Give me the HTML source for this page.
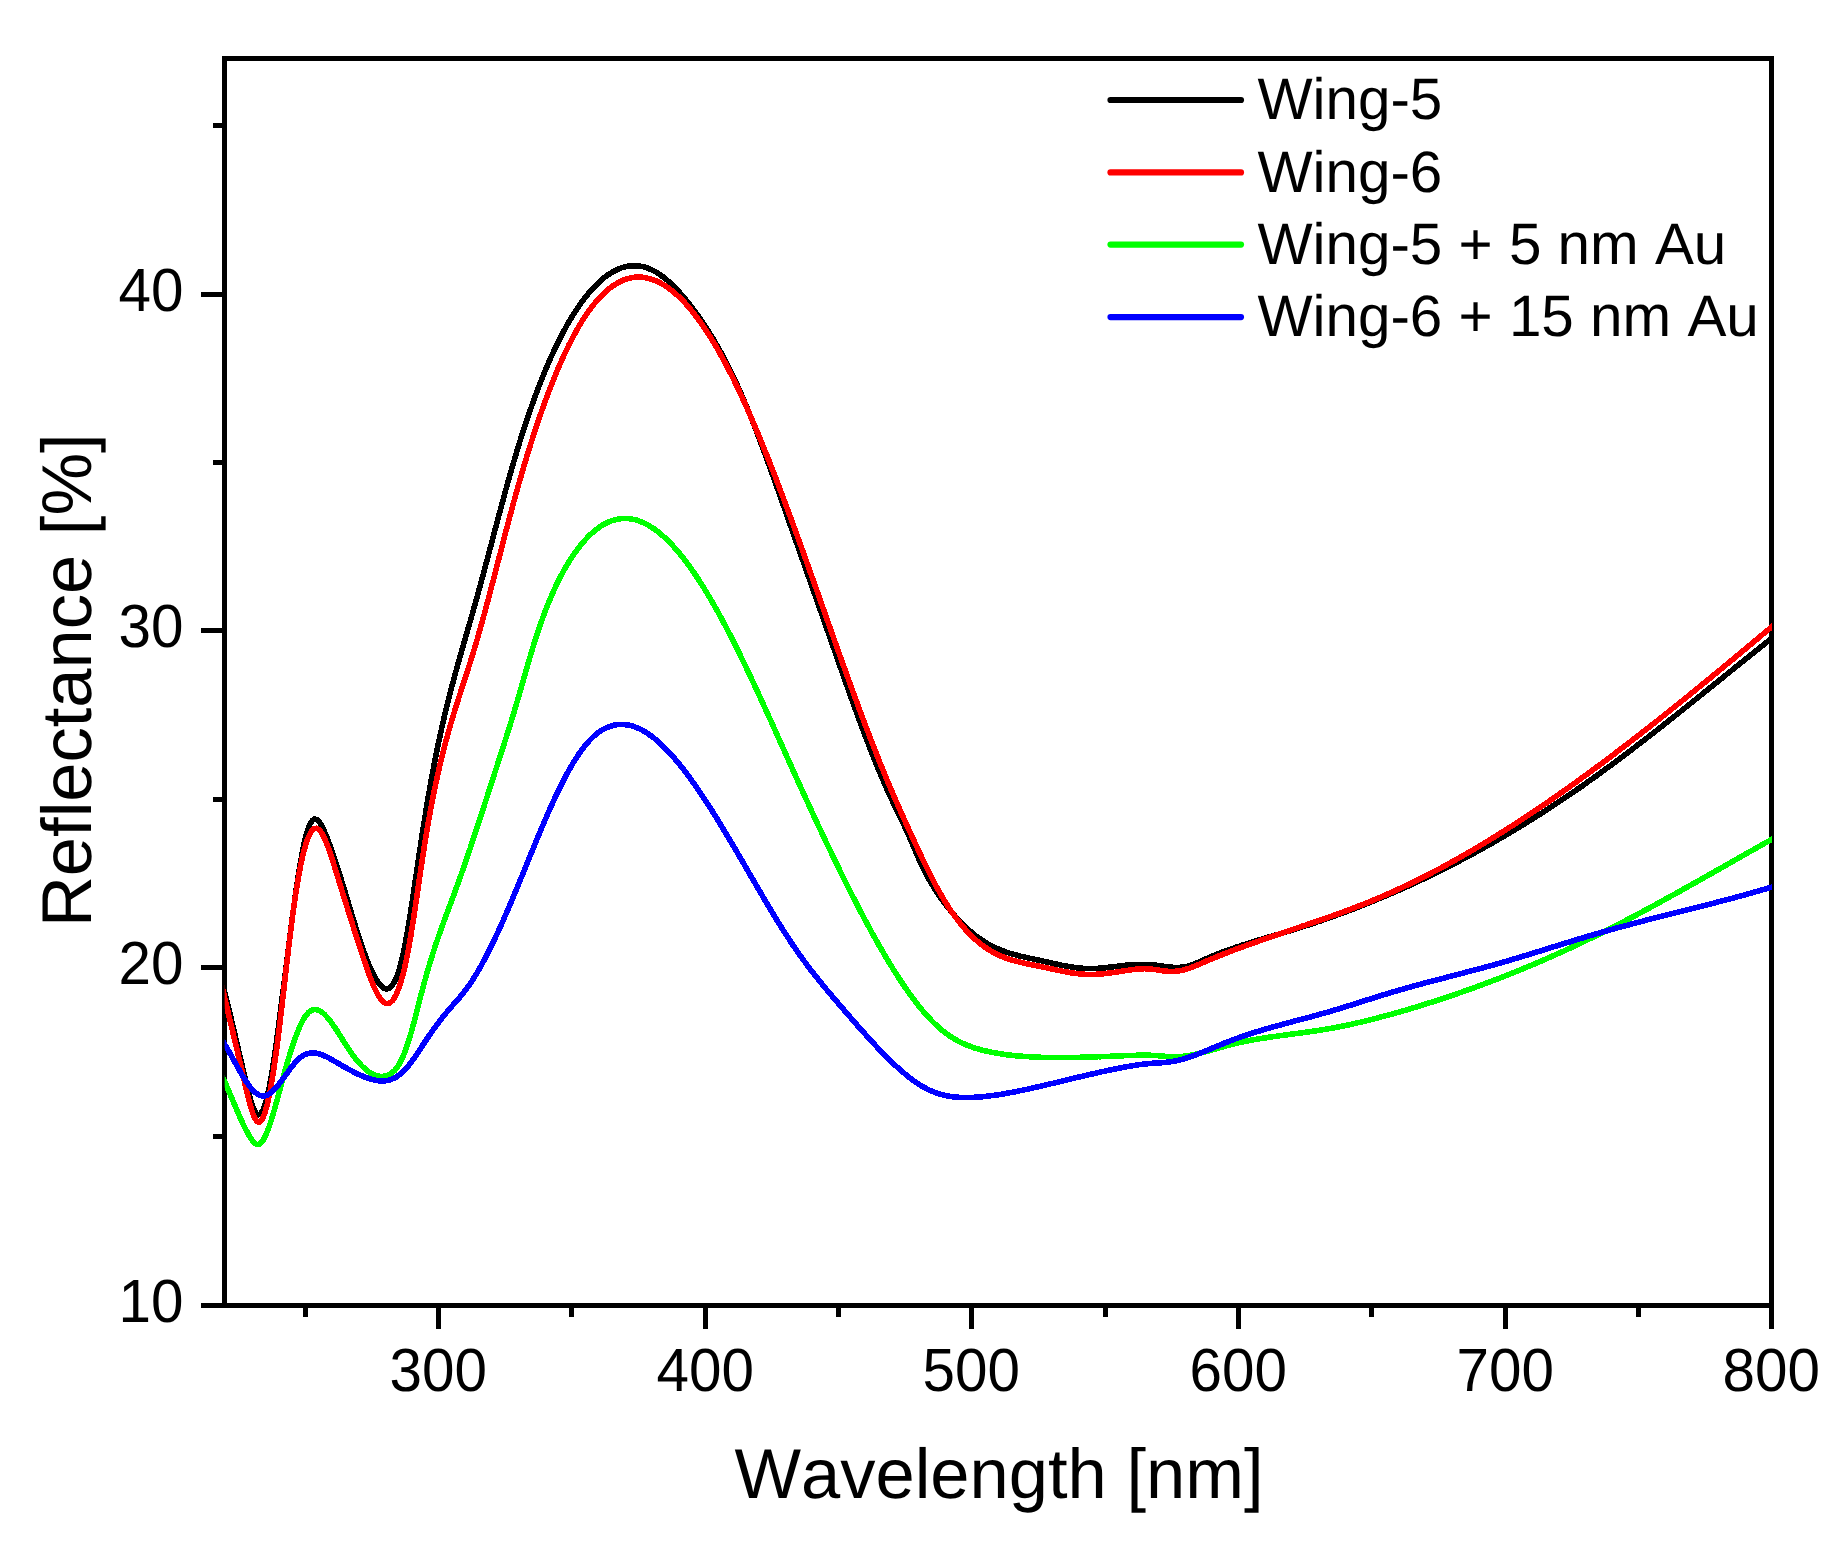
<!DOCTYPE html>
<html lang="en"><head><meta charset="utf-8"><title>Reflectance vs Wavelength</title>
<style>
html,body{margin:0;padding:0;background:#fff;}
body{width:1839px;height:1544px;overflow:hidden;}
svg{display:block;}
text{font-family:'Liberation Sans', Arial, Helvetica, sans-serif;fill:#000;font-kerning:none;text-rendering:geometricPrecision;}
.tk{font-size:58.4px;}
.ttl{font-size:70.5px;}
</style></head><body>
<svg width="1839" height="1544" viewBox="0 0 1839 1544">
<rect x="0" y="0" width="1839" height="1544" fill="#fff"/>

<g fill="#000" shape-rendering="crispEdges">
<rect x="222" y="56" width="5" height="1252"/>
<rect x="1769" y="56" width="5" height="1252"/>
<rect x="222" y="56" width="1552" height="5"/>
<rect x="222" y="1303" width="1552" height="5"/>
<rect x="436" y="1308" width="5" height="21"/>
<rect x="703" y="1308" width="5" height="21"/>
<rect x="969" y="1308" width="5" height="21"/>
<rect x="1236" y="1308" width="5" height="21"/>
<rect x="1503" y="1308" width="5" height="21"/>
<rect x="1769" y="1308" width="5" height="21"/>
<rect x="303" y="1308" width="5" height="9"/>
<rect x="569" y="1308" width="5" height="9"/>
<rect x="836" y="1308" width="5" height="9"/>
<rect x="1103" y="1308" width="5" height="9"/>
<rect x="1369" y="1308" width="5" height="9"/>
<rect x="1636" y="1308" width="5" height="9"/>
<rect x="201" y="1303" width="21" height="5"/>
<rect x="201" y="965" width="21" height="5"/>
<rect x="201" y="628" width="21" height="5"/>
<rect x="201" y="292" width="21" height="5"/>
<rect x="213" y="1134" width="9" height="5"/>
<rect x="213" y="797" width="9" height="5"/>
<rect x="213" y="460" width="9" height="5"/>
<rect x="213" y="123" width="9" height="5"/>
</g>
<g class="tk">
<text transform="translate(438.30,1390.6) scale(1,1.045)" text-anchor="middle">300</text>
<text transform="translate(705.30,1390.6) scale(1,1.045)" text-anchor="middle">400</text>
<text transform="translate(971.30,1390.6) scale(1,1.045)" text-anchor="middle">500</text>
<text transform="translate(1238.30,1390.6) scale(1,1.045)" text-anchor="middle">600</text>
<text transform="translate(1505.30,1390.6) scale(1,1.045)" text-anchor="middle">700</text>
<text transform="translate(1771.30,1390.6) scale(1,1.045)" text-anchor="middle">800</text>
<text transform="translate(183.5,1321.80) scale(1,1.045)" text-anchor="end">10</text>
<text transform="translate(183.5,983.80) scale(1,1.045)" text-anchor="end">20</text>
<text transform="translate(183.5,646.80) scale(1,1.045)" text-anchor="end">30</text>
<text transform="translate(183.5,310.80) scale(1,1.045)" text-anchor="end">40</text>
</g>
<text class="ttl" x="999.0" y="1497.6" text-anchor="middle">Wavelength [nm]</text>
<text class="ttl" transform="translate(90.8,680.2) rotate(-90)" text-anchor="middle">Reflectance [%]</text>
<defs><clipPath id="plotclip"><rect x="224.8" y="58.5" width="1547.2" height="1247.0"/></clipPath></defs>
<g fill="none" stroke-width="5.6" stroke-linejoin="round" stroke-linecap="butt" clip-path="url(#plotclip)" shape-rendering="crispEdges">
<defs><path id="c0" d="M218.5 967.2 220.5 975.1 222.5 983.0 224.5 991.1 226.5 999.3 228.5 1007.6 230.5 1015.9 232.5 1024.3 234.5 1032.8 236.5 1041.3 238.5 1049.9 240.5 1058.5 242.5 1067.1 244.5 1075.7 246.5 1084.1 248.5 1092.1 250.5 1099.4 252.5 1105.6 254.5 1110.5 256.5 1113.6 258.5 1114.9 260.5 1114.0 262.5 1111.1 264.5 1106.2 266.5 1099.5 268.5 1091.0 270.5 1080.8 272.5 1069.0 274.5 1055.8 276.5 1041.5 278.5 1026.5 280.5 1011.0 282.5 995.2 284.5 979.1 286.5 963.1 288.5 947.1 290.5 931.4 292.5 916.1 294.5 901.4 296.5 887.4 298.5 874.3 300.5 862.3 302.5 851.4 304.5 841.9 306.5 833.9 308.5 827.5 310.5 823.0 312.5 820.2 314.5 819.1 316.5 819.4 318.5 821.0 320.5 823.7 322.5 827.2 324.5 831.6 326.5 836.4 328.5 841.6 330.5 847.1 332.5 852.8 334.5 858.6 336.5 864.6 338.5 870.8 340.5 877.2 342.5 883.7 344.5 890.2 346.5 896.8 348.5 903.4 350.5 910.0 352.5 916.6 354.5 923.1 356.5 929.5 358.5 935.7 360.5 941.8 362.5 947.6 364.5 953.2 366.5 958.6 368.5 963.6 370.5 968.3 372.5 972.6 374.5 976.5 376.5 980.0 378.5 983.0 380.5 985.4 382.5 987.3 384.5 988.5 386.5 988.9 388.5 988.5 390.5 987.3 392.5 985.0 394.5 981.7 396.5 977.3 398.5 971.8 400.5 964.9 402.5 956.8 404.5 947.3 406.5 936.6 408.5 925.0 410.5 912.6 412.5 899.6 414.5 886.2 416.5 872.6 418.5 859.0 420.5 845.6 422.5 832.5 424.5 819.8 426.5 807.4 428.5 795.5 430.5 784.1 432.5 773.2 434.5 762.7 436.5 752.6 438.5 742.9 440.5 733.6 442.5 724.6 444.5 716.0 446.5 707.6 448.5 699.5 450.5 691.6 452.5 684.0 454.5 676.5 456.5 669.2 458.5 662.0 460.5 655.0 462.5 648.0 464.5 641.0 466.5 634.1 468.5 627.2 470.5 620.3 472.5 613.3 474.5 606.2 476.5 599.0 478.5 591.8 480.5 584.4 482.5 577.0 484.5 569.6 486.5 562.1 488.5 554.5 490.5 547.0 492.5 539.4 494.5 531.9 496.5 524.3 498.5 516.8 500.5 509.4 502.5 501.9 504.5 494.6 506.5 487.3 508.5 480.1 510.5 473.1 512.5 466.1 514.5 459.3 516.5 452.5 518.5 446.0 520.5 439.5 522.5 433.2 524.5 427.1 526.5 421.0 528.5 415.1 530.5 409.3 532.5 403.7 534.5 398.1 536.5 392.7 538.5 387.5 540.5 382.3 542.5 377.3 544.5 372.4 546.5 367.6 548.5 362.9 550.5 358.4 552.5 353.9 554.5 349.6 556.5 345.4 558.5 341.3 560.5 337.4 562.5 333.5 564.5 329.8 566.5 326.1 568.5 322.6 570.5 319.2 572.5 315.9 574.5 312.7 576.5 309.7 578.5 306.7 580.5 303.8 582.5 301.0 584.5 298.4 586.5 295.8 588.5 293.4 590.5 291.0 592.5 288.8 594.5 286.6 596.5 284.6 598.5 282.6 600.5 280.8 602.5 279.1 604.5 277.4 606.5 275.9 608.5 274.5 610.5 273.2 612.5 272.0 614.5 270.9 616.5 269.9 618.5 269.0 620.5 268.2 622.5 267.5 624.5 266.9 626.5 266.5 628.5 266.1 630.5 265.9 632.5 265.7 634.5 265.7 636.5 265.8 638.5 265.9 640.5 266.2 642.5 266.6 644.5 267.1 646.5 267.7 648.5 268.5 650.5 269.3 652.5 270.2 654.5 271.3 656.5 272.4 658.5 273.7 660.5 275.0 662.5 276.5 664.5 278.0 666.5 279.6 668.5 281.4 670.5 283.2 672.5 285.1 674.5 287.0 676.5 289.1 678.5 291.2 680.5 293.5 682.5 295.7 684.5 298.1 686.5 300.5 688.5 303.0 690.5 305.6 692.5 308.2 694.5 310.9 696.5 313.7 698.5 316.5 700.5 319.3 702.5 322.3 704.5 325.3 706.5 328.3 708.5 331.5 710.5 334.7 712.5 337.9 714.5 341.3 716.5 344.7 718.5 348.2 720.5 351.8 722.5 355.5 724.5 359.2 726.5 363.0 728.5 366.9 730.5 371.0 732.5 375.1 734.5 379.2 736.5 383.5 738.5 387.9 740.5 392.4 742.5 397.0 744.5 401.6 746.5 406.4 748.5 411.3 750.5 416.2 752.5 421.2 754.5 426.3 756.5 431.4 758.5 436.6 760.5 441.9 762.5 447.3 764.5 452.6 766.5 458.1 768.5 463.6 770.5 469.1 772.5 474.6 774.5 480.2 776.5 485.8 778.5 491.5 780.5 497.1 782.5 502.8 784.5 508.5 786.5 514.2 788.5 519.9 790.5 525.6 792.5 531.2 794.5 536.9 796.5 542.6 798.5 548.3 800.5 553.9 802.5 559.6 804.5 565.3 806.5 570.9 808.5 576.6 810.5 582.2 812.5 587.9 814.5 593.6 816.5 599.2 818.5 604.9 820.5 610.6 822.5 616.3 824.5 622.0 826.5 627.7 828.5 633.4 830.5 639.1 832.5 644.8 834.5 650.5 836.5 656.2 838.5 661.9 840.5 667.6 842.5 673.3 844.5 679.0 846.5 684.6 848.5 690.2 850.5 695.8 852.5 701.4 854.5 706.9 856.5 712.4 858.5 717.9 860.5 723.3 862.5 728.6 864.5 733.9 866.5 739.2 868.5 744.4 870.5 749.5 872.5 754.6 874.5 759.6 876.5 764.6 878.5 769.4 880.5 774.2 882.5 779.0 884.5 783.6 886.5 788.1 888.5 792.6 890.5 797.0 892.5 801.2 894.5 805.4 896.5 809.6 898.5 813.7 900.5 817.8 902.5 821.9 904.5 826.2 906.5 830.5 908.5 835.0 910.5 839.5 912.5 844.2 914.5 848.9 916.5 853.6 918.5 858.2 920.5 862.6 922.5 866.9 924.5 871.0 926.5 874.8 928.5 878.5 930.5 882.0 932.5 885.4 934.5 888.6 936.5 891.7 938.5 894.6 940.5 897.5 942.5 900.3 944.5 903.0 946.5 905.7 948.5 908.2 950.5 910.7 952.5 913.1 954.5 915.4 956.5 917.7 958.5 919.9 960.5 922.0 962.5 924.0 964.5 926.0 966.5 927.9 968.5 929.7 970.5 931.4 972.5 933.1 974.5 934.7 976.5 936.3 978.5 937.7 980.5 939.1 982.5 940.5 984.5 941.8 986.5 943.0 988.5 944.2 990.5 945.3 992.5 946.3 994.5 947.3 996.5 948.2 998.5 949.1 1000.5 949.9 1002.5 950.7 1004.5 951.5 1006.5 952.2 1008.5 952.8 1010.5 953.5 1012.5 954.0 1014.5 954.6 1016.5 955.1 1018.5 955.7 1020.5 956.2 1022.5 956.6 1024.5 957.1 1026.5 957.5 1028.5 958.0 1030.5 958.4 1032.5 958.8 1034.5 959.2 1036.5 959.7 1038.5 960.1 1040.5 960.5 1042.5 961.0 1044.5 961.4 1046.5 961.9 1048.5 962.3 1050.5 962.8 1052.5 963.2 1054.5 963.7 1056.5 964.1 1058.5 964.5 1060.5 964.9 1062.5 965.4 1064.5 965.7 1066.5 966.1 1068.5 966.5 1070.5 966.8 1072.5 967.1 1074.5 967.4 1076.5 967.7 1078.5 967.9 1080.5 968.1 1082.5 968.3 1084.5 968.4 1086.5 968.5 1088.5 968.5 1090.5 968.6 1092.5 968.5 1094.5 968.5 1096.5 968.4 1098.5 968.3 1100.5 968.1 1102.5 967.9 1104.5 967.8 1106.5 967.6 1108.5 967.3 1110.5 967.1 1112.5 966.9 1114.5 966.6 1116.5 966.4 1118.5 966.1 1120.5 965.9 1122.5 965.6 1124.5 965.4 1126.5 965.2 1128.5 965.0 1130.5 964.8 1132.5 964.7 1134.5 964.5 1136.5 964.4 1138.5 964.3 1140.5 964.3 1142.5 964.3 1144.5 964.3 1146.5 964.3 1148.5 964.4 1150.5 964.6 1152.5 964.8 1154.5 965.0 1156.5 965.3 1158.5 965.6 1160.5 965.9 1162.5 966.1 1164.5 966.4 1166.5 966.7 1168.5 966.9 1170.5 967.1 1172.5 967.3 1174.5 967.4 1176.5 967.5 1178.5 967.4 1180.5 967.3 1182.5 967.1 1184.5 966.9 1186.5 966.5 1188.5 966.0 1190.5 965.3 1192.5 964.6 1194.5 963.9 1196.5 963.0 1198.5 962.2 1200.5 961.3 1202.5 960.4 1204.5 959.5 1206.5 958.6 1208.5 957.7 1210.5 956.9 1212.5 956.0 1214.5 955.2 1216.5 954.4 1218.5 953.6 1220.5 952.9 1222.5 952.1 1224.5 951.4 1226.5 950.6 1228.5 949.9 1230.5 949.2 1232.5 948.5 1234.5 947.8 1236.5 947.1 1238.5 946.5 1240.5 945.8 1242.5 945.1 1244.5 944.5 1246.5 943.8 1248.5 943.2 1250.5 942.6 1252.5 942.0 1254.5 941.3 1256.5 940.7 1258.5 940.1 1260.5 939.5 1262.5 938.9 1264.5 938.3 1266.5 937.7 1268.5 937.1 1270.5 936.5 1272.5 935.9 1274.5 935.3 1276.5 934.8 1278.5 934.2 1280.5 933.6 1282.5 933.0 1284.5 932.4 1286.5 931.8 1288.5 931.2 1290.5 930.6 1292.5 929.9 1294.5 929.3 1296.5 928.7 1298.5 928.1 1300.5 927.4 1302.5 926.8 1304.5 926.2 1306.5 925.5 1308.5 924.9 1310.5 924.2 1312.5 923.6 1314.5 922.9 1316.5 922.2 1318.5 921.5 1320.5 920.9 1322.5 920.2 1324.5 919.5 1326.5 918.8 1328.5 918.1 1330.5 917.4 1332.5 916.7 1334.5 915.9 1336.5 915.2 1338.5 914.5 1340.5 913.8 1342.5 913.0 1344.5 912.3 1346.5 911.5 1348.5 910.8 1350.5 910.0 1352.5 909.3 1354.5 908.5 1356.5 907.7 1358.5 907.0 1360.5 906.2 1362.5 905.4 1364.5 904.6 1366.5 903.8 1368.5 903.0 1370.5 902.2 1372.5 901.4 1374.5 900.6 1376.5 899.7 1378.5 898.9 1380.5 898.1 1382.5 897.2 1384.5 896.4 1386.5 895.5 1388.5 894.7 1390.5 893.8 1392.5 893.0 1394.5 892.1 1396.5 891.2 1398.5 890.3 1400.5 889.5 1402.5 888.6 1404.5 887.7 1406.5 886.8 1408.5 885.9 1410.5 884.9 1412.5 884.0 1414.5 883.1 1416.5 882.2 1418.5 881.2 1420.5 880.3 1422.5 879.4 1424.5 878.4 1426.5 877.5 1428.5 876.5 1430.5 875.5 1432.5 874.6 1434.5 873.6 1436.5 872.6 1438.5 871.6 1440.5 870.6 1442.5 869.6 1444.5 868.6 1446.5 867.6 1448.5 866.6 1450.5 865.6 1452.5 864.5 1454.5 863.5 1456.5 862.5 1458.5 861.4 1460.5 860.4 1462.5 859.3 1464.5 858.3 1466.5 857.2 1468.5 856.1 1470.5 855.1 1472.5 854.0 1474.5 852.9 1476.5 851.8 1478.5 850.7 1480.5 849.6 1482.5 848.5 1484.5 847.4 1486.5 846.3 1488.5 845.1 1490.5 844.0 1492.5 842.9 1494.5 841.7 1496.5 840.6 1498.5 839.4 1500.5 838.3 1502.5 837.1 1504.5 835.9 1506.5 834.7 1508.5 833.6 1510.5 832.4 1512.5 831.2 1514.5 830.0 1516.5 828.8 1518.5 827.6 1520.5 826.4 1522.5 825.1 1524.5 823.9 1526.5 822.7 1528.5 821.4 1530.5 820.2 1532.5 818.9 1534.5 817.7 1536.5 816.4 1538.5 815.1 1540.5 813.9 1542.5 812.6 1544.5 811.3 1546.5 810.0 1548.5 808.7 1550.5 807.4 1552.5 806.1 1554.5 804.8 1556.5 803.5 1558.5 802.1 1560.5 800.8 1562.5 799.5 1564.5 798.1 1566.5 796.8 1568.5 795.4 1570.5 794.1 1572.5 792.7 1574.5 791.3 1576.5 789.9 1578.5 788.5 1580.5 787.2 1582.5 785.8 1584.5 784.4 1586.5 782.9 1588.5 781.5 1590.5 780.1 1592.5 778.7 1594.5 777.2 1596.5 775.8 1598.5 774.4 1600.5 772.9 1602.5 771.5 1604.5 770.0 1606.5 768.5 1608.5 767.1 1610.5 765.6 1612.5 764.1 1614.5 762.6 1616.5 761.1 1618.5 759.6 1620.5 758.1 1622.5 756.6 1624.5 755.1 1626.5 753.6 1628.5 752.1 1630.5 750.6 1632.5 749.1 1634.5 747.5 1636.5 746.0 1638.5 744.5 1640.5 742.9 1642.5 741.4 1644.5 739.8 1646.5 738.3 1648.5 736.7 1650.5 735.2 1652.5 733.6 1654.5 732.1 1656.5 730.5 1658.5 728.9 1660.5 727.3 1662.5 725.8 1664.5 724.2 1666.5 722.6 1668.5 721.0 1670.5 719.5 1672.5 717.9 1674.5 716.3 1676.5 714.7 1678.5 713.1 1680.5 711.5 1682.5 709.9 1684.5 708.3 1686.5 706.7 1688.5 705.1 1690.5 703.5 1692.5 701.9 1694.5 700.3 1696.5 698.7 1698.5 697.1 1700.5 695.5 1702.5 693.9 1704.5 692.3 1706.5 690.6 1708.5 689.0 1710.5 687.4 1712.5 685.8 1714.5 684.2 1716.5 682.6 1718.5 681.0 1720.5 679.4 1722.5 677.7 1724.5 676.1 1726.5 674.5 1728.5 672.9 1730.5 671.3 1732.5 669.7 1734.5 668.1 1736.5 666.4 1738.5 664.8 1740.5 663.2 1742.5 661.6 1744.5 660.0 1746.5 658.4 1748.5 656.8 1750.5 655.2 1752.5 653.6 1754.5 652.0 1756.5 650.4 1758.5 648.8 1760.5 647.2 1762.5 645.6 1764.5 644.0 1766.5 642.4 1768.5 640.8 1770.5 639.2 1772.5 637.6 1774.5 636.0 1776.5 634.4"/></defs>
<use href="#c0" stroke="#000000" stroke-width="4" shape-rendering="geometricPrecision"/>
<use href="#c0" stroke="#000000" stroke-width="5.6" shape-rendering="crispEdges"/>
<defs><path id="c1" d="M218.5 971.3 220.5 980.0 222.5 988.6 224.5 997.1 226.5 1005.6 228.5 1014.0 230.5 1022.4 232.5 1030.8 234.5 1039.2 236.5 1047.6 238.5 1056.1 240.5 1064.6 242.5 1073.2 244.5 1081.8 246.5 1090.4 248.5 1098.6 250.5 1106.1 252.5 1112.5 254.5 1117.6 256.5 1121.0 258.5 1122.3 260.5 1121.5 262.5 1118.7 264.5 1113.9 266.5 1107.3 268.5 1098.9 270.5 1088.9 272.5 1077.4 274.5 1064.5 276.5 1050.2 278.5 1034.7 280.5 1018.2 282.5 1001.1 284.5 983.6 286.5 966.0 288.5 948.8 290.5 932.1 292.5 916.3 294.5 901.8 296.5 888.6 298.5 876.7 300.5 866.1 302.5 856.8 304.5 848.9 306.5 842.2 308.5 836.8 310.5 832.8 312.5 830.0 314.5 828.5 316.5 828.2 318.5 829.2 320.5 831.3 322.5 834.4 324.5 838.4 326.5 843.0 328.5 848.3 330.5 854.1 332.5 860.2 334.5 866.6 336.5 873.1 338.5 879.6 340.5 886.0 342.5 892.5 344.5 898.9 346.5 905.3 348.5 911.7 350.5 918.1 352.5 924.4 354.5 930.7 356.5 937.0 358.5 943.1 360.5 949.3 362.5 955.4 364.5 961.3 366.5 967.2 368.5 972.9 370.5 978.3 372.5 983.3 374.5 988.0 376.5 992.2 378.5 995.8 380.5 998.9 382.5 1001.2 384.5 1002.8 386.5 1003.6 388.5 1003.5 390.5 1002.5 392.5 1000.6 394.5 997.7 396.5 993.9 398.5 989.0 400.5 983.1 402.5 976.2 404.5 968.2 406.5 959.1 408.5 948.9 410.5 937.7 412.5 925.4 414.5 912.4 416.5 898.9 418.5 885.2 420.5 871.5 422.5 858.1 424.5 845.2 426.5 832.9 428.5 821.3 430.5 810.3 432.5 799.8 434.5 789.8 436.5 780.3 438.5 771.3 440.5 762.7 442.5 754.5 444.5 746.6 446.5 739.1 448.5 731.8 450.5 724.8 452.5 718.0 454.5 711.4 456.5 705.0 458.5 698.7 460.5 692.4 462.5 686.3 464.5 680.1 466.5 673.9 468.5 667.7 470.5 661.4 472.5 655.0 474.5 648.4 476.5 641.7 478.5 634.8 480.5 627.7 482.5 620.5 484.5 613.2 486.5 605.8 488.5 598.3 490.5 590.7 492.5 583.1 494.5 575.4 496.5 567.7 498.5 560.0 500.5 552.2 502.5 544.5 504.5 536.8 506.5 529.1 508.5 521.5 510.5 514.0 512.5 506.5 514.5 499.2 516.5 492.0 518.5 484.8 520.5 477.9 522.5 471.0 524.5 464.2 526.5 457.6 528.5 451.0 530.5 444.6 532.5 438.4 534.5 432.2 536.5 426.1 538.5 420.2 540.5 414.4 542.5 408.7 544.5 403.2 546.5 397.7 548.5 392.4 550.5 387.2 552.5 382.1 554.5 377.1 556.5 372.3 558.5 367.6 560.5 363.0 562.5 358.5 564.5 354.1 566.5 349.9 568.5 345.8 570.5 341.8 572.5 337.9 574.5 334.2 576.5 330.6 578.5 327.1 580.5 323.7 582.5 320.4 584.5 317.3 586.5 314.3 588.5 311.4 590.5 308.7 592.5 306.0 594.5 303.5 596.5 301.1 598.5 298.8 600.5 296.7 602.5 294.6 604.5 292.7 606.5 290.9 608.5 289.2 610.5 287.6 612.5 286.2 614.5 284.8 616.5 283.6 618.5 282.4 620.5 281.4 622.5 280.5 624.5 279.7 626.5 279.0 628.5 278.5 630.5 278.0 632.5 277.6 634.5 277.3 636.5 277.2 638.5 277.1 640.5 277.2 642.5 277.3 644.5 277.6 646.5 277.9 648.5 278.4 650.5 278.9 652.5 279.5 654.5 280.3 656.5 281.1 658.5 282.0 660.5 283.1 662.5 284.2 664.5 285.4 666.5 286.7 668.5 288.1 670.5 289.6 672.5 291.1 674.5 292.8 676.5 294.6 678.5 296.4 680.5 298.3 682.5 300.3 684.5 302.4 686.5 304.6 688.5 306.9 690.5 309.3 692.5 311.7 694.5 314.2 696.5 316.8 698.5 319.5 700.5 322.3 702.5 325.2 704.5 328.1 706.5 331.1 708.5 334.2 710.5 337.4 712.5 340.6 714.5 343.9 716.5 347.3 718.5 350.8 720.5 354.4 722.5 358.0 724.5 361.7 726.5 365.4 728.5 369.3 730.5 373.2 732.5 377.2 734.5 381.2 736.5 385.4 738.5 389.6 740.5 393.8 742.5 398.1 744.5 402.5 746.5 407.0 748.5 411.5 750.5 416.1 752.5 420.7 754.5 425.4 756.5 430.1 758.5 434.9 760.5 439.7 762.5 444.6 764.5 449.5 766.5 454.5 768.5 459.5 770.5 464.6 772.5 469.7 774.5 474.9 776.5 480.0 778.5 485.3 780.5 490.5 782.5 495.8 784.5 501.1 786.5 506.5 788.5 511.9 790.5 517.3 792.5 522.7 794.5 528.2 796.5 533.7 798.5 539.2 800.5 544.7 802.5 550.3 804.5 555.9 806.5 561.4 808.5 567.0 810.5 572.6 812.5 578.3 814.5 583.9 816.5 589.5 818.5 595.2 820.5 600.8 822.5 606.5 824.5 612.1 826.5 617.8 828.5 623.4 830.5 629.1 832.5 634.7 834.5 640.4 836.5 646.0 838.5 651.6 840.5 657.2 842.5 662.8 844.5 668.4 846.5 673.9 848.5 679.5 850.5 685.0 852.5 690.5 854.5 695.9 856.5 701.4 858.5 706.8 860.5 712.2 862.5 717.5 864.5 722.9 866.5 728.1 868.5 733.4 870.5 738.6 872.5 743.8 874.5 748.9 876.5 754.0 878.5 759.0 880.5 764.0 882.5 768.9 884.5 773.8 886.5 778.7 888.5 783.5 890.5 788.2 892.5 792.9 894.5 797.5 896.5 802.0 898.5 806.6 900.5 811.1 902.5 815.5 904.5 820.0 906.5 824.4 908.5 828.7 910.5 833.1 912.5 837.4 914.5 841.8 916.5 846.1 918.5 850.4 920.5 854.6 922.5 858.8 924.5 863.0 926.5 867.1 928.5 871.2 930.5 875.2 932.5 879.1 934.5 882.9 936.5 886.7 938.5 890.3 940.5 893.9 942.5 897.3 944.5 900.7 946.5 903.9 948.5 907.1 950.5 910.1 952.5 913.0 954.5 915.8 956.5 918.5 958.5 921.2 960.5 923.7 962.5 926.1 964.5 928.4 966.5 930.7 968.5 932.8 970.5 934.9 972.5 936.8 974.5 938.7 976.5 940.5 978.5 942.2 980.5 943.8 982.5 945.4 984.5 946.8 986.5 948.2 988.5 949.5 990.5 950.8 992.5 951.9 994.5 953.0 996.5 954.0 998.5 955.0 1000.5 955.9 1002.5 956.7 1004.5 957.5 1006.5 958.3 1008.5 959.0 1010.5 959.6 1012.5 960.2 1014.5 960.8 1016.5 961.3 1018.5 961.8 1020.5 962.3 1022.5 962.8 1024.5 963.2 1026.5 963.7 1028.5 964.1 1030.5 964.5 1032.5 964.9 1034.5 965.3 1036.5 965.7 1038.5 966.1 1040.5 966.5 1042.5 966.9 1044.5 967.4 1046.5 967.8 1048.5 968.2 1050.5 968.7 1052.5 969.1 1054.5 969.5 1056.5 970.0 1058.5 970.4 1060.5 970.8 1062.5 971.2 1064.5 971.6 1066.5 972.0 1068.5 972.3 1070.5 972.7 1072.5 973.0 1074.5 973.3 1076.5 973.5 1078.5 973.7 1080.5 973.9 1082.5 974.1 1084.5 974.3 1086.5 974.4 1088.5 974.4 1090.5 974.4 1092.5 974.4 1094.5 974.4 1096.5 974.3 1098.5 974.2 1100.5 974.0 1102.5 973.8 1104.5 973.6 1106.5 973.4 1108.5 973.2 1110.5 972.9 1112.5 972.6 1114.5 972.4 1116.5 972.1 1118.5 971.7 1120.5 971.4 1122.5 971.1 1124.5 970.8 1126.5 970.5 1128.5 970.2 1130.5 969.9 1132.5 969.6 1134.5 969.4 1136.5 969.1 1138.5 969.0 1140.5 968.8 1142.5 968.8 1144.5 968.7 1146.5 968.7 1148.5 968.8 1150.5 969.0 1152.5 969.2 1154.5 969.5 1156.5 969.8 1158.5 970.1 1160.5 970.4 1162.5 970.7 1164.5 971.0 1166.5 971.2 1168.5 971.4 1170.5 971.5 1172.5 971.5 1174.5 971.4 1176.5 971.2 1178.5 971.0 1180.5 970.6 1182.5 970.2 1184.5 969.7 1186.5 969.1 1188.5 968.5 1190.5 967.8 1192.5 967.0 1194.5 966.2 1196.5 965.4 1198.5 964.6 1200.5 963.7 1202.5 962.8 1204.5 962.0 1206.5 961.1 1208.5 960.3 1210.5 959.4 1212.5 958.6 1214.5 957.8 1216.5 956.9 1218.5 956.1 1220.5 955.3 1222.5 954.5 1224.5 953.7 1226.5 953.0 1228.5 952.2 1230.5 951.4 1232.5 950.6 1234.5 949.9 1236.5 949.1 1238.5 948.4 1240.5 947.6 1242.5 946.9 1244.5 946.2 1246.5 945.4 1248.5 944.7 1250.5 944.0 1252.5 943.3 1254.5 942.6 1256.5 941.9 1258.5 941.2 1260.5 940.4 1262.5 939.7 1264.5 939.1 1266.5 938.4 1268.5 937.7 1270.5 937.0 1272.5 936.3 1274.5 935.6 1276.5 934.9 1278.5 934.2 1280.5 933.6 1282.5 932.9 1284.5 932.2 1286.5 931.5 1288.5 930.9 1290.5 930.2 1292.5 929.5 1294.5 928.8 1296.5 928.2 1298.5 927.5 1300.5 926.8 1302.5 926.1 1304.5 925.5 1306.5 924.8 1308.5 924.1 1310.5 923.4 1312.5 922.7 1314.5 922.0 1316.5 921.4 1318.5 920.7 1320.5 920.0 1322.5 919.3 1324.5 918.6 1326.5 917.9 1328.5 917.2 1330.5 916.5 1332.5 915.8 1334.5 915.1 1336.5 914.3 1338.5 913.6 1340.5 912.9 1342.5 912.2 1344.5 911.4 1346.5 910.7 1348.5 909.9 1350.5 909.2 1352.5 908.4 1354.5 907.7 1356.5 906.9 1358.5 906.1 1360.5 905.3 1362.5 904.6 1364.5 903.8 1366.5 903.0 1368.5 902.2 1370.5 901.3 1372.5 900.5 1374.5 899.7 1376.5 898.9 1378.5 898.0 1380.5 897.2 1382.5 896.3 1384.5 895.4 1386.5 894.5 1388.5 893.7 1390.5 892.8 1392.5 891.9 1394.5 891.0 1396.5 890.1 1398.5 889.1 1400.5 888.2 1402.5 887.3 1404.5 886.3 1406.5 885.4 1408.5 884.4 1410.5 883.5 1412.5 882.5 1414.5 881.5 1416.5 880.5 1418.5 879.5 1420.5 878.5 1422.5 877.5 1424.5 876.5 1426.5 875.5 1428.5 874.5 1430.5 873.4 1432.5 872.4 1434.5 871.3 1436.5 870.3 1438.5 869.2 1440.5 868.2 1442.5 867.1 1444.5 866.0 1446.5 864.9 1448.5 863.8 1450.5 862.7 1452.5 861.6 1454.5 860.5 1456.5 859.4 1458.5 858.2 1460.5 857.1 1462.5 856.0 1464.5 854.8 1466.5 853.7 1468.5 852.5 1470.5 851.4 1472.5 850.2 1474.5 849.0 1476.5 847.8 1478.5 846.6 1480.5 845.4 1482.5 844.2 1484.5 843.0 1486.5 841.8 1488.5 840.6 1490.5 839.4 1492.5 838.2 1494.5 836.9 1496.5 835.7 1498.5 834.4 1500.5 833.2 1502.5 831.9 1504.5 830.7 1506.5 829.4 1508.5 828.1 1510.5 826.8 1512.5 825.6 1514.5 824.3 1516.5 823.0 1518.5 821.7 1520.5 820.4 1522.5 819.1 1524.5 817.7 1526.5 816.4 1528.5 815.1 1530.5 813.8 1532.5 812.4 1534.5 811.1 1536.5 809.7 1538.5 808.4 1540.5 807.0 1542.5 805.7 1544.5 804.3 1546.5 802.9 1548.5 801.6 1550.5 800.2 1552.5 798.8 1554.5 797.4 1556.5 796.0 1558.5 794.6 1560.5 793.2 1562.5 791.8 1564.5 790.4 1566.5 789.0 1568.5 787.6 1570.5 786.1 1572.5 784.7 1574.5 783.3 1576.5 781.8 1578.5 780.4 1580.5 778.9 1582.5 777.5 1584.5 776.0 1586.5 774.6 1588.5 773.1 1590.5 771.7 1592.5 770.2 1594.5 768.7 1596.5 767.2 1598.5 765.8 1600.5 764.3 1602.5 762.8 1604.5 761.3 1606.5 759.8 1608.5 758.3 1610.5 756.8 1612.5 755.3 1614.5 753.8 1616.5 752.2 1618.5 750.7 1620.5 749.2 1622.5 747.7 1624.5 746.2 1626.5 744.6 1628.5 743.1 1630.5 741.5 1632.5 740.0 1634.5 738.5 1636.5 736.9 1638.5 735.4 1640.5 733.8 1642.5 732.2 1644.5 730.7 1646.5 729.1 1648.5 727.6 1650.5 726.0 1652.5 724.4 1654.5 722.8 1656.5 721.3 1658.5 719.7 1660.5 718.1 1662.5 716.5 1664.5 714.9 1666.5 713.3 1668.5 711.7 1670.5 710.1 1672.5 708.5 1674.5 706.9 1676.5 705.3 1678.5 703.7 1680.5 702.1 1682.5 700.5 1684.5 698.9 1686.5 697.3 1688.5 695.7 1690.5 694.0 1692.5 692.4 1694.5 690.8 1696.5 689.2 1698.5 687.5 1700.5 685.9 1702.5 684.3 1704.5 682.6 1706.5 681.0 1708.5 679.4 1710.5 677.7 1712.5 676.1 1714.5 674.4 1716.5 672.8 1718.5 671.1 1720.5 669.5 1722.5 667.8 1724.5 666.2 1726.5 664.5 1728.5 662.9 1730.5 661.2 1732.5 659.6 1734.5 657.9 1736.5 656.2 1738.5 654.6 1740.5 652.9 1742.5 651.3 1744.5 649.6 1746.5 647.9 1748.5 646.3 1750.5 644.6 1752.5 642.9 1754.5 641.2 1756.5 639.6 1758.5 637.9 1760.5 636.2 1762.5 634.5 1764.5 632.9 1766.5 631.2 1768.5 629.5 1770.5 627.8 1772.5 626.2 1774.5 624.5 1776.5 622.8"/></defs>
<use href="#c1" stroke="#ff0000" stroke-width="4" shape-rendering="geometricPrecision"/>
<use href="#c1" stroke="#ff0000" stroke-width="5.6" shape-rendering="crispEdges"/>
<defs><path id="c2" d="M218.5 1069.4 220.5 1073.1 222.5 1077.2 224.5 1081.4 226.5 1085.8 228.5 1090.4 230.5 1095.1 232.5 1099.8 234.5 1104.5 236.5 1109.2 238.5 1113.8 240.5 1118.4 242.5 1122.7 244.5 1126.9 246.5 1130.8 248.5 1134.5 250.5 1137.8 252.5 1140.7 254.5 1143.0 256.5 1144.3 258.5 1144.5 260.5 1143.5 262.5 1141.2 264.5 1137.8 266.5 1133.5 268.5 1128.4 270.5 1122.6 272.5 1116.2 274.5 1109.3 276.5 1102.1 278.5 1094.7 280.5 1087.3 282.5 1079.9 284.5 1072.6 286.5 1065.5 288.5 1058.7 290.5 1052.2 292.5 1045.9 294.5 1040.1 296.5 1034.6 298.5 1029.6 300.5 1025.0 302.5 1021.0 304.5 1017.5 306.5 1014.7 308.5 1012.4 310.5 1010.8 312.5 1009.9 314.5 1009.5 316.5 1009.6 318.5 1010.2 320.5 1011.2 322.5 1012.6 324.5 1014.4 326.5 1016.5 328.5 1018.8 330.5 1021.4 332.5 1024.1 334.5 1027.0 336.5 1030.0 338.5 1033.1 340.5 1036.3 342.5 1039.5 344.5 1042.7 346.5 1045.8 348.5 1048.9 350.5 1051.8 352.5 1054.6 354.5 1057.3 356.5 1059.9 358.5 1062.2 360.5 1064.4 362.5 1066.5 364.5 1068.4 366.5 1070.1 368.5 1071.6 370.5 1072.9 372.5 1074.0 374.5 1074.9 376.5 1075.6 378.5 1076.1 380.5 1076.4 382.5 1076.4 384.5 1076.2 386.5 1075.6 388.5 1074.8 390.5 1073.7 392.5 1072.3 394.5 1070.6 396.5 1068.3 398.5 1065.4 400.5 1061.8 402.5 1057.6 404.5 1052.7 406.5 1047.3 408.5 1041.3 410.5 1034.8 412.5 1027.8 414.5 1020.4 416.5 1012.7 418.5 1004.8 420.5 996.9 422.5 989.2 424.5 981.8 426.5 974.6 428.5 967.7 430.5 961.0 432.5 954.6 434.5 948.4 436.5 942.4 438.5 936.5 440.5 930.8 442.5 925.3 444.5 919.8 446.5 914.3 448.5 909.0 450.5 903.6 452.5 898.3 454.5 892.9 456.5 887.5 458.5 882.0 460.5 876.4 462.5 870.7 464.5 865.0 466.5 859.2 468.5 853.3 470.5 847.4 472.5 841.4 474.5 835.4 476.5 829.3 478.5 823.2 480.5 817.0 482.5 810.9 484.5 804.7 486.5 798.5 488.5 792.3 490.5 786.1 492.5 779.9 494.5 773.7 496.5 767.5 498.5 761.3 500.5 755.1 502.5 748.9 504.5 742.7 506.5 736.4 508.5 730.0 510.5 723.6 512.5 717.1 514.5 710.5 516.5 703.8 518.5 697.1 520.5 690.2 522.5 683.2 524.5 676.2 526.5 669.1 528.5 662.2 530.5 655.3 532.5 648.6 534.5 642.2 536.5 635.9 538.5 629.9 540.5 624.1 542.5 618.5 544.5 613.1 546.5 607.9 548.5 602.9 550.5 598.1 552.5 593.4 554.5 589.0 556.5 584.7 558.5 580.6 560.5 576.7 562.5 572.9 564.5 569.3 566.5 565.8 568.5 562.5 570.5 559.3 572.5 556.3 574.5 553.4 576.5 550.6 578.5 547.9 580.5 545.4 582.5 542.9 584.5 540.6 586.5 538.5 588.5 536.4 590.5 534.4 592.5 532.6 594.5 530.9 596.5 529.3 598.5 527.8 600.5 526.4 602.5 525.1 604.5 524.0 606.5 522.9 608.5 522.0 610.5 521.2 612.5 520.5 614.5 519.9 616.5 519.4 618.5 519.0 620.5 518.7 622.5 518.5 624.5 518.4 626.5 518.5 628.5 518.6 630.5 518.8 632.5 519.2 634.5 519.6 636.5 520.1 638.5 520.8 640.5 521.5 642.5 522.3 644.5 523.2 646.5 524.3 648.5 525.4 650.5 526.6 652.5 527.8 654.5 529.2 656.5 530.7 658.5 532.2 660.5 533.8 662.5 535.6 664.5 537.4 666.5 539.2 668.5 541.2 670.5 543.2 672.5 545.4 674.5 547.6 676.5 549.8 678.5 552.2 680.5 554.6 682.5 557.1 684.5 559.7 686.5 562.3 688.5 565.0 690.5 567.8 692.5 570.6 694.5 573.5 696.5 576.5 698.5 579.5 700.5 582.6 702.5 585.8 704.5 589.0 706.5 592.3 708.5 595.6 710.5 599.0 712.5 602.4 714.5 605.9 716.5 609.5 718.5 613.1 720.5 616.7 722.5 620.4 724.5 624.2 726.5 628.0 728.5 631.8 730.5 635.7 732.5 639.7 734.5 643.6 736.5 647.6 738.5 651.7 740.5 655.7 742.5 659.9 744.5 664.0 746.5 668.2 748.5 672.4 750.5 676.6 752.5 680.9 754.5 685.1 756.5 689.5 758.5 693.8 760.5 698.1 762.5 702.5 764.5 706.9 766.5 711.3 768.5 715.7 770.5 720.1 772.5 724.5 774.5 729.0 776.5 733.4 778.5 737.9 780.5 742.3 782.5 746.8 784.5 751.2 786.5 755.7 788.5 760.2 790.5 764.6 792.5 769.1 794.5 773.5 796.5 777.9 798.5 782.4 800.5 786.8 802.5 791.2 804.5 795.6 806.5 799.9 808.5 804.3 810.5 808.6 812.5 813.0 814.5 817.3 816.5 821.6 818.5 825.8 820.5 830.1 822.5 834.3 824.5 838.6 826.5 842.8 828.5 847.0 830.5 851.2 832.5 855.3 834.5 859.5 836.5 863.6 838.5 867.7 840.5 871.8 842.5 875.8 844.5 879.9 846.5 883.9 848.5 887.9 850.5 891.8 852.5 895.8 854.5 899.7 856.5 903.6 858.5 907.5 860.5 911.3 862.5 915.1 864.5 918.9 866.5 922.6 868.5 926.3 870.5 930.0 872.5 933.7 874.5 937.3 876.5 940.8 878.5 944.4 880.5 947.9 882.5 951.3 884.5 954.7 886.5 958.1 888.5 961.4 890.5 964.7 892.5 968.0 894.5 971.2 896.5 974.4 898.5 977.5 900.5 980.5 902.5 983.5 904.5 986.5 906.5 989.4 908.5 992.2 910.5 995.0 912.5 997.8 914.5 1000.4 916.5 1003.0 918.5 1005.6 920.5 1008.1 922.5 1010.5 924.5 1012.8 926.5 1015.1 928.5 1017.3 930.5 1019.4 932.5 1021.5 934.5 1023.5 936.5 1025.4 938.5 1027.2 940.5 1028.9 942.5 1030.6 944.5 1032.2 946.5 1033.7 948.5 1035.1 950.5 1036.5 952.5 1037.8 954.5 1039.0 956.5 1040.1 958.5 1041.2 960.5 1042.2 962.5 1043.2 964.5 1044.1 966.5 1044.9 968.5 1045.7 970.5 1046.5 972.5 1047.2 974.5 1047.9 976.5 1048.5 978.5 1049.1 980.5 1049.6 982.5 1050.2 984.5 1050.7 986.5 1051.1 988.5 1051.6 990.5 1052.0 992.5 1052.4 994.5 1052.8 996.5 1053.1 998.5 1053.5 1000.5 1053.8 1002.5 1054.1 1004.5 1054.4 1006.5 1054.7 1008.5 1054.9 1010.5 1055.2 1012.5 1055.4 1014.5 1055.6 1016.5 1055.8 1018.5 1056.0 1020.5 1056.2 1022.5 1056.3 1024.5 1056.5 1026.5 1056.6 1028.5 1056.7 1030.5 1056.8 1032.5 1056.9 1034.5 1057.0 1036.5 1057.1 1038.5 1057.2 1040.5 1057.3 1042.5 1057.3 1044.5 1057.4 1046.5 1057.4 1048.5 1057.4 1050.5 1057.5 1052.5 1057.5 1054.5 1057.5 1056.5 1057.5 1058.5 1057.5 1060.5 1057.5 1062.5 1057.5 1064.5 1057.5 1066.5 1057.5 1068.5 1057.5 1070.5 1057.4 1072.5 1057.4 1074.5 1057.4 1076.5 1057.3 1078.5 1057.3 1080.5 1057.3 1082.5 1057.2 1084.5 1057.2 1086.5 1057.1 1088.5 1057.1 1090.5 1057.0 1092.5 1056.9 1094.5 1056.9 1096.5 1056.8 1098.5 1056.7 1100.5 1056.7 1102.5 1056.6 1104.5 1056.5 1106.5 1056.4 1108.5 1056.4 1110.5 1056.3 1112.5 1056.2 1114.5 1056.1 1116.5 1056.0 1118.5 1055.9 1120.5 1055.9 1122.5 1055.8 1124.5 1055.7 1126.5 1055.6 1128.5 1055.5 1130.5 1055.4 1132.5 1055.4 1134.5 1055.3 1136.5 1055.3 1138.5 1055.2 1140.5 1055.2 1142.5 1055.2 1144.5 1055.2 1146.5 1055.2 1148.5 1055.2 1150.5 1055.3 1152.5 1055.3 1154.5 1055.4 1156.5 1055.6 1158.5 1055.7 1160.5 1055.9 1162.5 1056.1 1164.5 1056.3 1166.5 1056.5 1168.5 1056.7 1170.5 1056.8 1172.5 1056.9 1174.5 1056.9 1176.5 1056.9 1178.5 1056.8 1180.5 1056.6 1182.5 1056.4 1184.5 1056.2 1186.5 1055.9 1188.5 1055.6 1190.5 1055.3 1192.5 1054.9 1194.5 1054.5 1196.5 1054.0 1198.5 1053.5 1200.5 1053.1 1202.5 1052.5 1204.5 1052.0 1206.5 1051.5 1208.5 1050.9 1210.5 1050.3 1212.5 1049.8 1214.5 1049.2 1216.5 1048.6 1218.5 1048.0 1220.5 1047.4 1222.5 1046.9 1224.5 1046.3 1226.5 1045.8 1228.5 1045.2 1230.5 1044.7 1232.5 1044.2 1234.5 1043.7 1236.5 1043.3 1238.5 1042.8 1240.5 1042.4 1242.5 1041.9 1244.5 1041.5 1246.5 1041.1 1248.5 1040.7 1250.5 1040.3 1252.5 1040.0 1254.5 1039.6 1256.5 1039.3 1258.5 1038.9 1260.5 1038.6 1262.5 1038.3 1264.5 1038.0 1266.5 1037.7 1268.5 1037.3 1270.5 1037.1 1272.5 1036.8 1274.5 1036.5 1276.5 1036.2 1278.5 1035.9 1280.5 1035.6 1282.5 1035.4 1284.5 1035.1 1286.5 1034.8 1288.5 1034.6 1290.5 1034.3 1292.5 1034.0 1294.5 1033.8 1296.5 1033.5 1298.5 1033.3 1300.5 1033.0 1302.5 1032.7 1304.5 1032.4 1306.5 1032.2 1308.5 1031.9 1310.5 1031.6 1312.5 1031.3 1314.5 1031.0 1316.5 1030.7 1318.5 1030.4 1320.5 1030.1 1322.5 1029.8 1324.5 1029.5 1326.5 1029.1 1328.5 1028.8 1330.5 1028.4 1332.5 1028.1 1334.5 1027.7 1336.5 1027.3 1338.5 1026.9 1340.5 1026.5 1342.5 1026.1 1344.5 1025.7 1346.5 1025.3 1348.5 1024.9 1350.5 1024.4 1352.5 1024.0 1354.5 1023.5 1356.5 1023.1 1358.5 1022.6 1360.5 1022.2 1362.5 1021.7 1364.5 1021.2 1366.5 1020.7 1368.5 1020.2 1370.5 1019.7 1372.5 1019.2 1374.5 1018.7 1376.5 1018.2 1378.5 1017.7 1380.5 1017.1 1382.5 1016.6 1384.5 1016.1 1386.5 1015.5 1388.5 1015.0 1390.5 1014.4 1392.5 1013.9 1394.5 1013.3 1396.5 1012.7 1398.5 1012.2 1400.5 1011.6 1402.5 1011.0 1404.5 1010.4 1406.5 1009.9 1408.5 1009.3 1410.5 1008.7 1412.5 1008.1 1414.5 1007.5 1416.5 1006.9 1418.5 1006.3 1420.5 1005.6 1422.5 1005.0 1424.5 1004.4 1426.5 1003.8 1428.5 1003.1 1430.5 1002.5 1432.5 1001.9 1434.5 1001.2 1436.5 1000.6 1438.5 999.9 1440.5 999.3 1442.5 998.6 1444.5 998.0 1446.5 997.3 1448.5 996.6 1450.5 996.0 1452.5 995.3 1454.5 994.6 1456.5 993.9 1458.5 993.2 1460.5 992.5 1462.5 991.8 1464.5 991.1 1466.5 990.4 1468.5 989.7 1470.5 989.0 1472.5 988.3 1474.5 987.6 1476.5 986.8 1478.5 986.1 1480.5 985.4 1482.5 984.6 1484.5 983.9 1486.5 983.1 1488.5 982.4 1490.5 981.6 1492.5 980.9 1494.5 980.1 1496.5 979.3 1498.5 978.6 1500.5 977.8 1502.5 977.0 1504.5 976.2 1506.5 975.4 1508.5 974.6 1510.5 973.8 1512.5 973.0 1514.5 972.2 1516.5 971.4 1518.5 970.6 1520.5 969.8 1522.5 968.9 1524.5 968.1 1526.5 967.3 1528.5 966.4 1530.5 965.6 1532.5 964.8 1534.5 963.9 1536.5 963.1 1538.5 962.2 1540.5 961.3 1542.5 960.5 1544.5 959.6 1546.5 958.7 1548.5 957.8 1550.5 957.0 1552.5 956.1 1554.5 955.2 1556.5 954.3 1558.5 953.4 1560.5 952.5 1562.5 951.6 1564.5 950.7 1566.5 949.7 1568.5 948.8 1570.5 947.9 1572.5 946.9 1574.5 946.0 1576.5 945.1 1578.5 944.1 1580.5 943.2 1582.5 942.2 1584.5 941.3 1586.5 940.3 1588.5 939.3 1590.5 938.4 1592.5 937.4 1594.5 936.4 1596.5 935.4 1598.5 934.4 1600.5 933.4 1602.5 932.4 1604.5 931.4 1606.5 930.4 1608.5 929.4 1610.5 928.4 1612.5 927.4 1614.5 926.4 1616.5 925.3 1618.5 924.3 1620.5 923.3 1622.5 922.2 1624.5 921.2 1626.5 920.1 1628.5 919.1 1630.5 918.0 1632.5 917.0 1634.5 915.9 1636.5 914.9 1638.5 913.8 1640.5 912.7 1642.5 911.7 1644.5 910.6 1646.5 909.5 1648.5 908.4 1650.5 907.4 1652.5 906.3 1654.5 905.2 1656.5 904.1 1658.5 903.0 1660.5 901.9 1662.5 900.8 1664.5 899.7 1666.5 898.6 1668.5 897.5 1670.5 896.4 1672.5 895.3 1674.5 894.2 1676.5 893.1 1678.5 892.0 1680.5 890.9 1682.5 889.7 1684.5 888.6 1686.5 887.5 1688.5 886.4 1690.5 885.3 1692.5 884.1 1694.5 883.0 1696.5 881.9 1698.5 880.8 1700.5 879.6 1702.5 878.5 1704.5 877.4 1706.5 876.2 1708.5 875.1 1710.5 874.0 1712.5 872.9 1714.5 871.7 1716.5 870.6 1718.5 869.5 1720.5 868.3 1722.5 867.2 1724.5 866.0 1726.5 864.9 1728.5 863.8 1730.5 862.6 1732.5 861.5 1734.5 860.4 1736.5 859.2 1738.5 858.1 1740.5 857.0 1742.5 855.8 1744.5 854.7 1746.5 853.6 1748.5 852.4 1750.5 851.3 1752.5 850.2 1754.5 849.1 1756.5 847.9 1758.5 846.8 1760.5 845.7 1762.5 844.6 1764.5 843.4 1766.5 842.3 1768.5 841.2 1770.5 840.1 1772.5 838.9 1774.5 837.8 1776.5 836.7"/></defs>
<use href="#c2" stroke="#00ff00" stroke-width="4" shape-rendering="geometricPrecision"/>
<use href="#c2" stroke="#00ff00" stroke-width="5.6" shape-rendering="crispEdges"/>
<defs><path id="c3" d="M218.5 1035.2 220.5 1037.9 222.5 1040.8 224.5 1044.0 226.5 1047.3 228.5 1050.7 230.5 1054.3 232.5 1057.9 234.5 1061.5 236.5 1065.1 238.5 1068.7 240.5 1072.2 242.5 1075.7 244.5 1078.9 246.5 1082.0 248.5 1084.9 250.5 1087.5 252.5 1089.8 254.5 1091.8 256.5 1093.5 258.5 1094.8 260.5 1095.6 262.5 1096.0 264.5 1095.9 266.5 1095.4 268.5 1094.4 270.5 1093.0 272.5 1091.4 274.5 1089.4 276.5 1087.2 278.5 1084.8 280.5 1082.2 282.5 1079.5 284.5 1076.7 286.5 1074.0 288.5 1071.2 290.5 1068.5 292.5 1065.9 294.5 1063.4 296.5 1061.2 298.5 1059.2 300.5 1057.4 302.5 1056.0 304.5 1054.8 306.5 1054.0 308.5 1053.4 310.5 1053.0 312.5 1052.9 314.5 1053.0 316.5 1053.3 318.5 1053.7 320.5 1054.3 322.5 1055.0 324.5 1055.9 326.5 1056.8 328.5 1057.8 330.5 1058.9 332.5 1060.1 334.5 1061.2 336.5 1062.4 338.5 1063.6 340.5 1064.7 342.5 1065.9 344.5 1067.0 346.5 1068.1 348.5 1069.2 350.5 1070.3 352.5 1071.4 354.5 1072.4 356.5 1073.4 358.5 1074.4 360.5 1075.3 362.5 1076.1 364.5 1077.0 366.5 1077.7 368.5 1078.4 370.5 1079.1 372.5 1079.6 374.5 1080.1 376.5 1080.5 378.5 1080.8 380.5 1080.9 382.5 1080.9 384.5 1080.8 386.5 1080.6 388.5 1080.2 390.5 1079.6 392.5 1078.9 394.5 1078.0 396.5 1076.9 398.5 1075.5 400.5 1074.0 402.5 1072.3 404.5 1070.3 406.5 1068.1 408.5 1065.7 410.5 1063.2 412.5 1060.4 414.5 1057.6 416.5 1054.7 418.5 1051.7 420.5 1048.6 422.5 1045.5 424.5 1042.5 426.5 1039.5 428.5 1036.5 430.5 1033.6 432.5 1030.7 434.5 1028.0 436.5 1025.2 438.5 1022.6 440.5 1019.9 442.5 1017.4 444.5 1014.9 446.5 1012.5 448.5 1010.1 450.5 1007.8 452.5 1005.5 454.5 1003.3 456.5 1001.0 458.5 998.7 460.5 996.4 462.5 994.0 464.5 991.5 466.5 988.8 468.5 986.1 470.5 983.2 472.5 980.1 474.5 977.0 476.5 973.7 478.5 970.3 480.5 966.8 482.5 963.2 484.5 959.5 486.5 955.6 488.5 951.7 490.5 947.7 492.5 943.6 494.5 939.4 496.5 935.2 498.5 930.8 500.5 926.4 502.5 922.0 504.5 917.4 506.5 912.8 508.5 908.2 510.5 903.5 512.5 898.8 514.5 894.0 516.5 889.2 518.5 884.4 520.5 879.5 522.5 874.6 524.5 869.8 526.5 864.8 528.5 859.9 530.5 855.0 532.5 850.1 534.5 845.3 536.5 840.4 538.5 835.6 540.5 830.8 542.5 826.1 544.5 821.3 546.5 816.7 548.5 812.1 550.5 807.6 552.5 803.2 554.5 798.8 556.5 794.5 558.5 790.3 560.5 786.3 562.5 782.3 564.5 778.4 566.5 774.6 568.5 771.0 570.5 767.4 572.5 764.0 574.5 760.7 576.5 757.6 578.5 754.5 580.5 751.7 582.5 748.9 584.5 746.3 586.5 743.9 588.5 741.6 590.5 739.5 592.5 737.5 594.5 735.6 596.5 734.0 598.5 732.4 600.5 731.1 602.5 729.8 604.5 728.7 606.5 727.7 608.5 726.9 610.5 726.2 612.5 725.6 614.5 725.1 616.5 724.8 618.5 724.5 620.5 724.4 622.5 724.4 624.5 724.6 626.5 724.8 628.5 725.1 630.5 725.6 632.5 726.1 634.5 726.8 636.5 727.5 638.5 728.4 640.5 729.3 642.5 730.4 644.5 731.5 646.5 732.7 648.5 734.0 650.5 735.5 652.5 736.9 654.5 738.5 656.5 740.2 658.5 741.9 660.5 743.7 662.5 745.6 664.5 747.6 666.5 749.6 668.5 751.7 670.5 753.8 672.5 756.1 674.5 758.4 676.5 760.7 678.5 763.1 680.5 765.6 682.5 768.1 684.5 770.7 686.5 773.3 688.5 776.0 690.5 778.8 692.5 781.5 694.5 784.4 696.5 787.2 698.5 790.1 700.5 793.1 702.5 796.1 704.5 799.1 706.5 802.2 708.5 805.3 710.5 808.4 712.5 811.5 714.5 814.7 716.5 817.9 718.5 821.2 720.5 824.5 722.5 827.7 724.5 831.1 726.5 834.4 728.5 837.7 730.5 841.1 732.5 844.5 734.5 847.9 736.5 851.3 738.5 854.7 740.5 858.2 742.5 861.6 744.5 865.0 746.5 868.5 748.5 871.9 750.5 875.4 752.5 878.9 754.5 882.3 756.5 885.7 758.5 889.2 760.5 892.6 762.5 896.0 764.5 899.4 766.5 902.8 768.5 906.2 770.5 909.5 772.5 912.8 774.5 916.1 776.5 919.4 778.5 922.7 780.5 925.9 782.5 929.1 784.5 932.2 786.5 935.3 788.5 938.4 790.5 941.5 792.5 944.5 794.5 947.4 796.5 950.3 798.5 953.2 800.5 956.0 802.5 958.8 804.5 961.5 806.5 964.2 808.5 966.9 810.5 969.5 812.5 972.1 814.5 974.6 816.5 977.2 818.5 979.7 820.5 982.2 822.5 984.6 824.5 987.1 826.5 989.5 828.5 991.9 830.5 994.2 832.5 996.6 834.5 999.0 836.5 1001.3 838.5 1003.6 840.5 1005.9 842.5 1008.3 844.5 1010.6 846.5 1012.9 848.5 1015.2 850.5 1017.5 852.5 1019.8 854.5 1022.1 856.5 1024.4 858.5 1026.7 860.5 1028.9 862.5 1031.2 864.5 1033.4 866.5 1035.6 868.5 1037.8 870.5 1040.0 872.5 1042.2 874.5 1044.4 876.5 1046.5 878.5 1048.6 880.5 1050.7 882.5 1052.8 884.5 1054.8 886.5 1056.8 888.5 1058.8 890.5 1060.8 892.5 1062.7 894.5 1064.6 896.5 1066.5 898.5 1068.3 900.5 1070.1 902.5 1071.8 904.5 1073.5 906.5 1075.2 908.5 1076.8 910.5 1078.4 912.5 1079.9 914.5 1081.3 916.5 1082.7 918.5 1084.0 920.5 1085.3 922.5 1086.5 924.5 1087.6 926.5 1088.7 928.5 1089.7 930.5 1090.6 932.5 1091.5 934.5 1092.2 936.5 1093.0 938.5 1093.6 940.5 1094.2 942.5 1094.8 944.5 1095.3 946.5 1095.7 948.5 1096.1 950.5 1096.4 952.5 1096.7 954.5 1097.0 956.5 1097.2 958.5 1097.3 960.5 1097.4 962.5 1097.5 964.5 1097.6 966.5 1097.6 968.5 1097.6 970.5 1097.5 972.5 1097.4 974.5 1097.3 976.5 1097.2 978.5 1097.1 980.5 1096.9 982.5 1096.7 984.5 1096.5 986.5 1096.3 988.5 1096.0 990.5 1095.8 992.5 1095.5 994.5 1095.3 996.5 1095.0 998.5 1094.7 1000.5 1094.4 1002.5 1094.0 1004.5 1093.7 1006.5 1093.3 1008.5 1093.0 1010.5 1092.6 1012.5 1092.2 1014.5 1091.9 1016.5 1091.5 1018.5 1091.1 1020.5 1090.6 1022.5 1090.2 1024.5 1089.8 1026.5 1089.4 1028.5 1088.9 1030.5 1088.5 1032.5 1088.0 1034.5 1087.6 1036.5 1087.1 1038.5 1086.7 1040.5 1086.2 1042.5 1085.7 1044.5 1085.3 1046.5 1084.8 1048.5 1084.3 1050.5 1083.8 1052.5 1083.4 1054.5 1082.9 1056.5 1082.4 1058.5 1081.9 1060.5 1081.5 1062.5 1081.0 1064.5 1080.5 1066.5 1080.0 1068.5 1079.5 1070.5 1079.0 1072.5 1078.6 1074.5 1078.1 1076.5 1077.6 1078.5 1077.1 1080.5 1076.7 1082.5 1076.2 1084.5 1075.7 1086.5 1075.3 1088.5 1074.8 1090.5 1074.3 1092.5 1073.9 1094.5 1073.4 1096.5 1073.0 1098.5 1072.5 1100.5 1072.1 1102.5 1071.6 1104.5 1071.2 1106.5 1070.8 1108.5 1070.3 1110.5 1069.9 1112.5 1069.5 1114.5 1069.1 1116.5 1068.7 1118.5 1068.3 1120.5 1067.9 1122.5 1067.5 1124.5 1067.1 1126.5 1066.8 1128.5 1066.4 1130.5 1066.1 1132.5 1065.7 1134.5 1065.4 1136.5 1065.1 1138.5 1064.8 1140.5 1064.5 1142.5 1064.3 1144.5 1064.0 1146.5 1063.8 1148.5 1063.6 1150.5 1063.5 1152.5 1063.3 1154.5 1063.2 1156.5 1063.0 1158.5 1062.9 1160.5 1062.8 1162.5 1062.6 1164.5 1062.5 1166.5 1062.3 1168.5 1062.0 1170.5 1061.8 1172.5 1061.4 1174.5 1061.1 1176.5 1060.7 1178.5 1060.2 1180.5 1059.7 1182.5 1059.2 1184.5 1058.6 1186.5 1058.0 1188.5 1057.4 1190.5 1056.7 1192.5 1056.0 1194.5 1055.3 1196.5 1054.6 1198.5 1053.8 1200.5 1053.0 1202.5 1052.2 1204.5 1051.4 1206.5 1050.6 1208.5 1049.8 1210.5 1049.0 1212.5 1048.1 1214.5 1047.3 1216.5 1046.4 1218.5 1045.6 1220.5 1044.8 1222.5 1044.0 1224.5 1043.1 1226.5 1042.3 1228.5 1041.5 1230.5 1040.8 1232.5 1040.0 1234.5 1039.2 1236.5 1038.5 1238.5 1037.8 1240.5 1037.1 1242.5 1036.4 1244.5 1035.7 1246.5 1035.0 1248.5 1034.4 1250.5 1033.7 1252.5 1033.1 1254.5 1032.4 1256.5 1031.8 1258.5 1031.2 1260.5 1030.6 1262.5 1030.0 1264.5 1029.4 1266.5 1028.8 1268.5 1028.2 1270.5 1027.7 1272.5 1027.1 1274.5 1026.5 1276.5 1026.0 1278.5 1025.4 1280.5 1024.9 1282.5 1024.3 1284.5 1023.8 1286.5 1023.3 1288.5 1022.7 1290.5 1022.2 1292.5 1021.7 1294.5 1021.1 1296.5 1020.6 1298.5 1020.1 1300.5 1019.5 1302.5 1019.0 1304.5 1018.5 1306.5 1018.0 1308.5 1017.4 1310.5 1016.9 1312.5 1016.3 1314.5 1015.8 1316.5 1015.2 1318.5 1014.7 1320.5 1014.1 1322.5 1013.6 1324.5 1013.0 1326.5 1012.4 1328.5 1011.9 1330.5 1011.3 1332.5 1010.7 1334.5 1010.1 1336.5 1009.5 1338.5 1008.9 1340.5 1008.3 1342.5 1007.7 1344.5 1007.1 1346.5 1006.4 1348.5 1005.8 1350.5 1005.2 1352.5 1004.6 1354.5 1003.9 1356.5 1003.3 1358.5 1002.7 1360.5 1002.0 1362.5 1001.4 1364.5 1000.8 1366.5 1000.1 1368.5 999.5 1370.5 998.9 1372.5 998.3 1374.5 997.6 1376.5 997.0 1378.5 996.4 1380.5 995.8 1382.5 995.1 1384.5 994.5 1386.5 993.9 1388.5 993.3 1390.5 992.7 1392.5 992.1 1394.5 991.5 1396.5 990.9 1398.5 990.3 1400.5 989.7 1402.5 989.2 1404.5 988.6 1406.5 988.0 1408.5 987.5 1410.5 986.9 1412.5 986.4 1414.5 985.8 1416.5 985.3 1418.5 984.7 1420.5 984.2 1422.5 983.6 1424.5 983.1 1426.5 982.6 1428.5 982.0 1430.5 981.5 1432.5 981.0 1434.5 980.5 1436.5 979.9 1438.5 979.4 1440.5 978.9 1442.5 978.4 1444.5 977.9 1446.5 977.3 1448.5 976.8 1450.5 976.3 1452.5 975.8 1454.5 975.3 1456.5 974.7 1458.5 974.2 1460.5 973.7 1462.5 973.2 1464.5 972.7 1466.5 972.1 1468.5 971.6 1470.5 971.1 1472.5 970.6 1474.5 970.0 1476.5 969.5 1478.5 969.0 1480.5 968.4 1482.5 967.9 1484.5 967.4 1486.5 966.8 1488.5 966.3 1490.5 965.7 1492.5 965.2 1494.5 964.6 1496.5 964.1 1498.5 963.5 1500.5 962.9 1502.5 962.3 1504.5 961.8 1506.5 961.2 1508.5 960.6 1510.5 960.0 1512.5 959.4 1514.5 958.8 1516.5 958.2 1518.5 957.6 1520.5 957.0 1522.5 956.4 1524.5 955.8 1526.5 955.2 1528.5 954.6 1530.5 954.0 1532.5 953.4 1534.5 952.7 1536.5 952.1 1538.5 951.5 1540.5 950.9 1542.5 950.3 1544.5 949.6 1546.5 949.0 1548.5 948.4 1550.5 947.8 1552.5 947.1 1554.5 946.5 1556.5 945.9 1558.5 945.3 1560.5 944.7 1562.5 944.0 1564.5 943.4 1566.5 942.8 1568.5 942.2 1570.5 941.6 1572.5 940.9 1574.5 940.3 1576.5 939.7 1578.5 939.1 1580.5 938.5 1582.5 937.9 1584.5 937.3 1586.5 936.7 1588.5 936.1 1590.5 935.5 1592.5 934.9 1594.5 934.3 1596.5 933.8 1598.5 933.2 1600.5 932.6 1602.5 932.0 1604.5 931.5 1606.5 930.9 1608.5 930.3 1610.5 929.8 1612.5 929.2 1614.5 928.7 1616.5 928.1 1618.5 927.6 1620.5 927.0 1622.5 926.5 1624.5 925.9 1626.5 925.4 1628.5 924.9 1630.5 924.3 1632.5 923.8 1634.5 923.3 1636.5 922.7 1638.5 922.2 1640.5 921.7 1642.5 921.2 1644.5 920.7 1646.5 920.1 1648.5 919.6 1650.5 919.1 1652.5 918.6 1654.5 918.1 1656.5 917.6 1658.5 917.1 1660.5 916.6 1662.5 916.1 1664.5 915.5 1666.5 915.0 1668.5 914.5 1670.5 914.0 1672.5 913.5 1674.5 913.0 1676.5 912.5 1678.5 912.0 1680.5 911.5 1682.5 911.0 1684.5 910.5 1686.5 910.0 1688.5 909.5 1690.5 909.0 1692.5 908.5 1694.5 908.0 1696.5 907.5 1698.5 907.0 1700.5 906.5 1702.5 905.9 1704.5 905.4 1706.5 904.9 1708.5 904.4 1710.5 903.9 1712.5 903.4 1714.5 902.9 1716.5 902.4 1718.5 901.8 1720.5 901.3 1722.5 900.8 1724.5 900.3 1726.5 899.7 1728.5 899.2 1730.5 898.7 1732.5 898.2 1734.5 897.6 1736.5 897.1 1738.5 896.5 1740.5 896.0 1742.5 895.5 1744.5 894.9 1746.5 894.4 1748.5 893.8 1750.5 893.2 1752.5 892.7 1754.5 892.1 1756.5 891.6 1758.5 891.0 1760.5 890.4 1762.5 889.8 1764.5 889.3 1766.5 888.7 1768.5 888.1 1770.5 887.5 1772.5 886.9 1774.5 886.3 1776.5 885.7"/></defs>
<use href="#c3" stroke="#0000ff" stroke-width="4" shape-rendering="geometricPrecision"/>
<use href="#c3" stroke="#0000ff" stroke-width="5.6" shape-rendering="crispEdges"/>
</g>
<g stroke-width="6.2" stroke-linecap="round">
<line x1="1110.5" y1="100" x2="1241" y2="100" stroke="#000000"/>
<line x1="1110.5" y1="172.4" x2="1241" y2="172.4" stroke="#ff0000"/>
<line x1="1110.5" y1="244.6" x2="1241" y2="244.6" stroke="#00ff00"/>
<line x1="1110.5" y1="317.1" x2="1241" y2="317.1" stroke="#0000ff"/>
</g><g class="tk">
<text x="1257.4" y="118.7">Wing-5</text>
<text x="1257.4" y="191.5">Wing-6</text>
<text x="1257.4" y="263.6">Wing-5 + 5 nm Au</text>
<text x="1257.4" y="335.9">Wing-6 + 15 nm Au</text>
</g>
</svg></body></html>
